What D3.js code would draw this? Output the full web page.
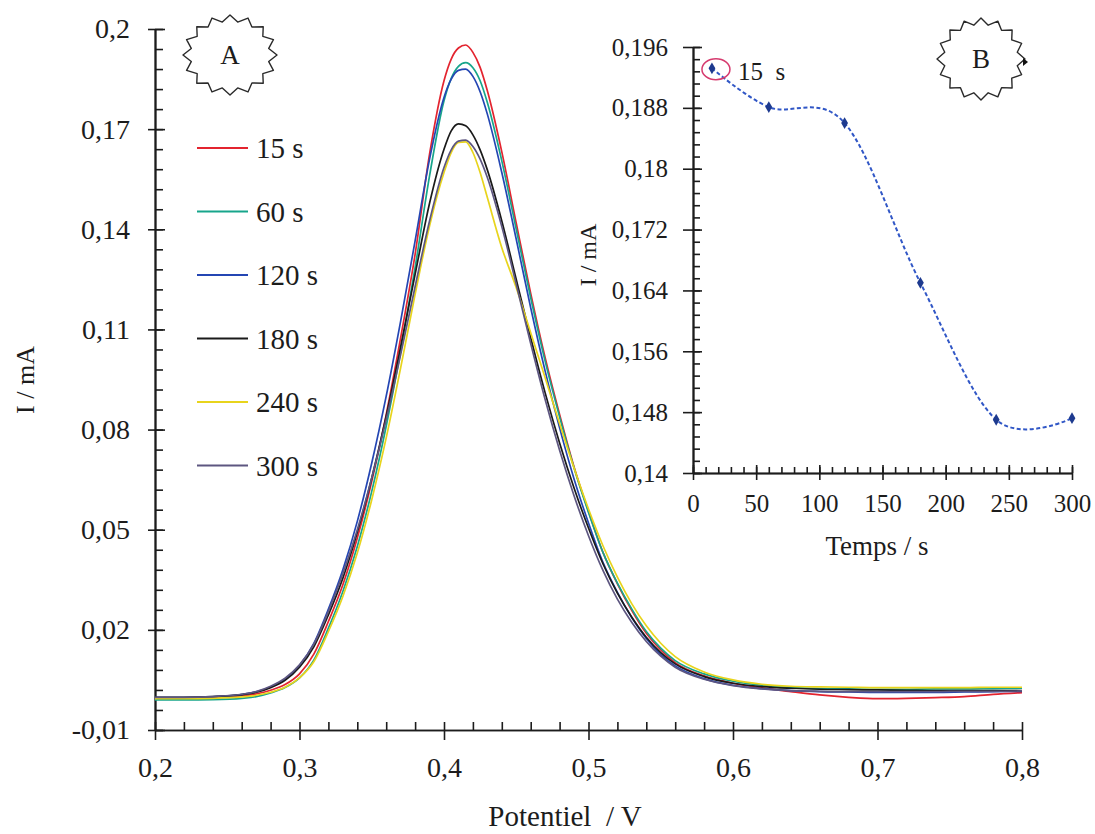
<!DOCTYPE html>
<html>
<head>
<meta charset="utf-8">
<script src="https://cdn.jsdelivr.net/npm/d3@7"></script>
<style>
  html, body { margin: 0; padding: 0; background: #fff; }
  svg { display: block; font-family: "Liberation Serif", "Times New Roman", serif; }
</style>
</head>
<body>
<svg id="chart" width="1095" height="834"></svg>
<script>
// ---- Differential pulse voltammograms: current vs potential for several accumulation times ----
const potential = [0.20, 0.22, 0.24, 0.26, 0.27, 0.28, 0.29, 0.30, 0.31, 0.32, 0.33, 0.34, 0.35, 0.36, 0.37, 0.38, 0.39, 0.40, 0.405, 0.41, 0.415, 0.42, 0.425, 0.43, 0.44, 0.45, 0.46, 0.47, 0.48, 0.49, 0.50, 0.51, 0.52, 0.53, 0.54, 0.55, 0.56, 0.58, 0.60, 0.62, 0.64, 0.66, 0.68, 0.70, 0.72, 0.74, 0.76, 0.78, 0.80];

const current15s = [-0.0004, -0.0004, -0.0003, 0.0002, 0.0008, 0.0019, 0.0036, 0.0068, 0.0128, 0.0225, 0.0335, 0.0475, 0.0645, 0.0845, 0.1075, 0.1325, 0.1625, 0.1845, 0.1910, 0.1943, 0.1952, 0.1930, 0.1885, 0.1815, 0.1632, 0.1418, 0.1208, 0.1015, 0.0845, 0.0688, 0.0555, 0.0432, 0.0338, 0.0258, 0.0190, 0.0140, 0.0102, 0.0062, 0.0040, 0.0026, 0.0015, 0.0005, -0.0002, -0.0006, -0.0005, -0.0003, 0.0000, 0.0007, 0.0012];
const current60s = [-0.0010, -0.0010, -0.0009, -0.0005, 0.0000, 0.0011, 0.0027, 0.0056, 0.0110, 0.0205, 0.0315, 0.0450, 0.0615, 0.0810, 0.1035, 0.1285, 0.1560, 0.1785, 0.1852, 0.1888, 0.1899, 0.1884, 0.1845, 0.1780, 0.1605, 0.1400, 0.1195, 0.1005, 0.0838, 0.0685, 0.0552, 0.0432, 0.0340, 0.0262, 0.0195, 0.0145, 0.0108, 0.0068, 0.0046, 0.0034, 0.0027, 0.0024, 0.0023, 0.0022, 0.0022, 0.0023, 0.0023, 0.0024, 0.0025];
const current120s = [-0.0003, -0.0003, -0.0001, 0.0006, 0.0014, 0.0029, 0.0052, 0.0093, 0.0160, 0.0262, 0.0380, 0.0525, 0.0700, 0.0900, 0.1125, 0.1365, 0.1610, 0.1795, 0.1850, 0.1876, 0.1880, 0.1858, 0.1812, 0.1745, 0.1570, 0.1370, 0.1165, 0.0975, 0.0805, 0.0652, 0.0520, 0.0402, 0.0312, 0.0236, 0.0174, 0.0126, 0.0092, 0.0054, 0.0034, 0.0024, 0.0018, 0.0015, 0.0014, 0.0013, 0.0013, 0.0013, 0.0014, 0.0015, 0.0016];
const current180s = [-0.0002, -0.0002, 0.0000, 0.0006, 0.0013, 0.0027, 0.0049, 0.0088, 0.0150, 0.0245, 0.0355, 0.0492, 0.0655, 0.0840, 0.1048, 0.1265, 0.1478, 0.1640, 0.1695, 0.1716, 0.1710, 0.1683, 0.1638, 0.1578, 0.1425, 0.1250, 0.1075, 0.0910, 0.0760, 0.0625, 0.0505, 0.0398, 0.0310, 0.0238, 0.0178, 0.0132, 0.0098, 0.0060, 0.0040, 0.0030, 0.0025, 0.0022, 0.0021, 0.0020, 0.0019, 0.0018, 0.0018, 0.0018, 0.0018];
const current240s = [-0.0006, -0.0006, -0.0005, -0.0001, 0.0004, 0.0013, 0.0028, 0.0056, 0.0105, 0.0195, 0.0300, 0.0430, 0.0590, 0.0775, 0.0985, 0.1205, 0.1410, 0.1570, 0.1630, 0.1660, 0.1662, 0.1630, 0.1570, 0.1495, 0.1345, 0.1225, 0.1090, 0.0955, 0.0818, 0.0685, 0.0562, 0.0452, 0.0358, 0.0278, 0.0212, 0.0160, 0.0120, 0.0074, 0.0050, 0.0037, 0.0031, 0.0029, 0.0028, 0.0027, 0.0027, 0.0027, 0.0027, 0.0028, 0.0028];
const current300s = [-0.0002, -0.0002, 0.0000, 0.0007, 0.0015, 0.0031, 0.0055, 0.0095, 0.0158, 0.0255, 0.0368, 0.0500, 0.0655, 0.0830, 0.1025, 0.1228, 0.1425, 0.1585, 0.1638, 0.1664, 0.1667, 0.1648, 0.1610, 0.1555, 0.1408, 0.1235, 0.1058, 0.0890, 0.0738, 0.0602, 0.0482, 0.0378, 0.0292, 0.0222, 0.0165, 0.0121, 0.0088, 0.0052, 0.0033, 0.0023, 0.0018, 0.0016, 0.0015, 0.0015, 0.0015, 0.0015, 0.0016, 0.0016, 0.0017];

const seriesNames = ["15 s", "60 s", "120 s", "180 s", "240 s", "300 s"];
const seriesValues = [current15s, current60s, current120s, current180s, current240s, current300s];
const seriesColors = ["#e3242f", "#17a58b", "#2446b3", "#1a1a1a", "#e8d41c", "#5d5680"];

const potentialTicks = [0.2, 0.3, 0.4, 0.5, 0.6, 0.7, 0.8];
const currentTicks = [-0.01, 0.02, 0.05, 0.08, 0.11, 0.14, 0.17, 0.2];

// ---- Inset: peak current vs accumulation time ----
const timeS = [15, 60, 120, 180, 240, 300];
const peakCurrent = [0.1932, 0.1881, 0.1860, 0.1650, 0.1470, 0.1472];
const timeTicks = [0, 50, 100, 150, 200, 250, 300];
const peakTicks = [0.14, 0.148, 0.156, 0.164, 0.172, 0.18, 0.188, 0.196];

// French decimal comma, plain hyphen for negatives
const fr = d3.formatLocale({ decimal: ",", thousands: " ", grouping: [3], currency: ["", " €"], minus: "-" });

const svg = d3.select("#chart");
const ink = "#1c1c1c";

// ================= Main panel =================
const x = d3.scaleLinear().domain([0.2, 0.8]).range([155, 1022]);
const y = d3.scaleLinear().domain([-0.01, 0.2]).range([730, 29]);

function styleAxis(g, size) {
  g.attr("font-family", null).attr("font-size", size).attr("fill", null);
  g.selectAll("path, line").attr("stroke", ink).attr("stroke-width", 1.6);
  g.selectAll("text").attr("fill", ink);
}

// y axis: labels + outer part of major ticks
svg.append("g").attr("transform", `translate(${x(0.2)},0)`)
  .call(d3.axisLeft(y).tickValues(currentTicks).tickSize(7).tickSizeOuter(0).tickPadding(18)
    .tickFormat(fr.format(".2~f")))
  .call(g => styleAxis(g, 28));
// inner part of major ticks
svg.append("g").attr("transform", `translate(${x(0.2)},0)`)
  .call(d3.axisRight(y).tickValues(currentTicks).tickSize(10).tickSizeOuter(0).tickFormat(""))
  .call(g => styleAxis(g, 28));
// minor ticks
svg.append("g").attr("transform", `translate(${x(0.2)},0)`)
  .call(d3.axisRight(y).tickValues(d3.range(0, 36).map(i => -0.01 + i * 0.006)).tickSize(8).tickSizeOuter(0).tickFormat(""))
  .call(g => styleAxis(g, 28));

// x axis
svg.append("g").attr("transform", `translate(0,${y(-0.01)})`)
  .call(d3.axisBottom(x).tickValues(potentialTicks).tickSize(10).tickSizeOuter(0).tickPadding(17)
    .tickFormat(fr.format(".1f")))
  .call(g => styleAxis(g, 28));
svg.append("g").attr("transform", `translate(0,${y(-0.01)})`)
  .call(d3.axisTop(x).tickValues(d3.range(0, 31).map(i => 0.2 + i * 0.02)).tickSize(8).tickSizeOuter(0).tickFormat(""))
  .call(g => styleAxis(g, 28));

// axis titles
svg.append("text")
  .attr("x", 565).attr("y", 826)
  .attr("text-anchor", "middle").attr("font-size", 29).attr("fill", ink)
  .style("white-space", "pre")
  .text("Potentiel  / V");
svg.append("text")
  .attr("transform", "translate(34,380) rotate(-90)")
  .attr("text-anchor", "middle").attr("font-size", 26).attr("fill", ink)
  .text("I / mA");

// curves
const line = d3.line()
  .x((d, i) => x(potential[i]))
  .y(d => y(d))
  .curve(d3.curveMonotoneX);

svg.append("g").selectAll("path")
  .data(seriesValues)
  .join("path")
  .attr("d", d => line(d))
  .attr("fill", "none")
  .attr("stroke", (d, i) => seriesColors[i])
  .attr("stroke-width", 1.7);

// legend
const legend = svg.append("g");
seriesNames.forEach((name, i) => {
  const ly = 148 + i * 63.5;
  legend.append("line")
    .attr("x1", 197).attr("x2", 248).attr("y1", ly).attr("y2", ly)
    .attr("stroke", seriesColors[i]).attr("stroke-width", 1.8);
  legend.append("text")
    .attr("x", 256).attr("y", ly + 10)
    .attr("font-size", 29).attr("fill", ink)
    .text(name);
});

// 16-point star badge
function starPath(cx, cy, rx, ry, n, inner) {
  const pts = [];
  for (let k = 0; k < 2 * n; k++) {
    const a = -Math.PI / 2 + k * Math.PI / n;
    const r = k % 2 === 0 ? 1 : inner;
    pts.push([cx + rx * r * Math.cos(a), cy + ry * r * Math.sin(a)]);
  }
  return d3.line().curve(d3.curveLinearClosed)(pts);
}
function badge(cx, cy, rx, ry, letter) {
  svg.append("path")
    .attr("d", starPath(cx, cy, rx, ry, 16, 0.84))
    .attr("fill", "#fff").attr("stroke", "#2a2a2a").attr("stroke-width", 1.4)
    .attr("stroke-linejoin", "round");
  svg.append("text")
    .attr("x", cx).attr("y", cy + 9)
    .attr("text-anchor", "middle").attr("font-size", 27).attr("fill", ink)
    .text(letter);
}
badge(230, 55, 47, 40, "A");

// ================= Inset panel =================
const xi = d3.scaleLinear().domain([0, 300]).range([693, 1072]);
const yi = d3.scaleLinear().domain([0.14, 0.196]).range([473, 47]);

svg.append("g").attr("transform", `translate(${xi(0)},0)`)
  .call(d3.axisLeft(yi).tickValues(peakTicks).tickSize(10).tickSizeOuter(0).tickPadding(15)
    .tickFormat(fr.format(".3~f")))
  .call(g => styleAxis(g, 25));
svg.append("g").attr("transform", `translate(${xi(0)},0)`)
  .call(d3.axisRight(yi).tickValues(peakTicks).tickSize(9).tickSizeOuter(0).tickFormat(""))
  .call(g => styleAxis(g, 25));
svg.append("g").attr("transform", `translate(${xi(0)},0)`)
  .call(d3.axisRight(yi).tickValues(d3.range(0, 36).map(i => 0.14 + i * 0.0016)).tickSize(7).tickSizeOuter(0).tickFormat(""))
  .call(g => styleAxis(g, 25));

svg.append("g").attr("transform", `translate(0,${yi(0.14)})`)
  .call(d3.axisBottom(xi).tickValues(timeTicks).tickSize(7).tickSizeOuter(0).tickPadding(14)
    .tickFormat(fr.format("d")))
  .call(g => styleAxis(g, 25));
svg.append("g").attr("transform", `translate(0,${yi(0.14)})`)
  .call(d3.axisTop(xi).tickValues(timeTicks).tickSize(8).tickSizeOuter(0).tickFormat(""))
  .call(g => styleAxis(g, 25));
svg.append("g").attr("transform", `translate(0,${yi(0.14)})`)
  .call(d3.axisTop(xi).tickValues(d3.range(0, 31).map(i => i * 10)).tickSize(6).tickSizeOuter(0).tickFormat(""))
  .call(g => styleAxis(g, 25));

svg.append("text")
  .attr("x", 877).attr("y", 555)
  .attr("text-anchor", "middle").attr("font-size", 27).attr("fill", ink)
  .text("Temps / s");
svg.append("text")
  .attr("transform", "translate(596,255) rotate(-90)")
  .attr("text-anchor", "middle").attr("font-size", 24).attr("fill", ink)
  .text("I / mA");

// smoothed dashed trend
const insetLine = d3.line()
  .x((d, i) => xi(timeS[i]))
  .y(d => yi(d))
  .curve(d3.curveCardinal.tension(0));
svg.append("path")
  .attr("d", insetLine(peakCurrent))
  .attr("fill", "none")
  .attr("stroke", "#3157c6")
  .attr("stroke-width", 2)
  .attr("stroke-dasharray", "4,2.5");

// diamond markers
svg.append("g").selectAll("path")
  .data(peakCurrent)
  .join("path")
  .attr("transform", (d, i) => `translate(${xi(timeS[i])},${yi(d)})`)
  .attr("d", d3.symbol(d3.symbolDiamond, 40))
  .attr("fill", "#1d3a8f");

// highlight of the first point
svg.append("ellipse")
  .attr("cx", xi(timeS[0]) + 4).attr("cy", yi(peakCurrent[0]) + 1)
  .attr("rx", 14).attr("ry", 10.5)
  .attr("fill", "none").attr("stroke", "#d63a6e").attr("stroke-width", 1.5);
svg.append("text")
  .attr("x", 738).attr("y", 80)
  .attr("font-size", 25).attr("fill", ink)
  .style("white-space", "pre")
  .text("15  s");

badge(981, 59, 44, 41, "B");
svg.append("path")
  .attr("d", "M1023,58 L1028,62 L1023,66 Z")
  .attr("fill", "#111");
</script>
</body>
</html>
